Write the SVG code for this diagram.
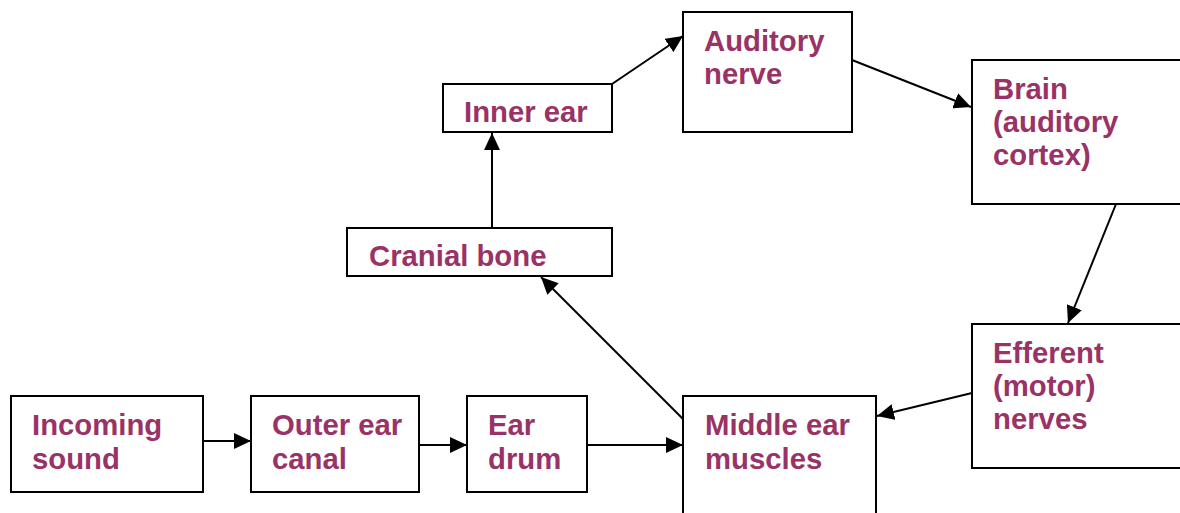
<svg xmlns="http://www.w3.org/2000/svg" width="1180" height="513" viewBox="0 0 1180 513">
<style>
.box{fill:#fff;stroke:#000;stroke-width:2}
.t{font-family:"Liberation Sans",Arial,sans-serif;font-weight:bold;font-size:29.3px;fill:#993366}
.c{stroke:#000;stroke-width:2;fill:none;marker-end:url(#ah)}
</style>
<defs>
<marker id="ah" markerUnits="userSpaceOnUse" markerWidth="18" markerHeight="16" refX="17" refY="8" orient="auto">
<path d="M0,0 L17,8 L0,16 z" fill="#000"/>
</marker>
</defs>
<rect width="1180" height="513" fill="#fff"/>
<g id="incoming">
<rect class="box" x="11" y="396" width="192" height="96"/>
<text class="t" x="32" y="435">Incoming</text>
<text class="t" x="32" y="469">sound</text>
</g>
<g id="outer">
<rect class="box" x="251" y="396" width="168" height="96"/>
<text class="t" x="272" y="435">Outer ear</text>
<text class="t" x="272" y="469">canal</text>
</g>
<g id="drum">
<rect class="box" x="467" y="396" width="120" height="96"/>
<text class="t" x="488" y="435">Ear</text>
<text class="t" x="488" y="469">drum</text>
</g>
<g id="middle">
<rect class="box" x="683" y="396" width="193" height="130"/>
<text class="t" x="705" y="435">Middle ear</text>
<text class="t" x="705" y="469">muscles</text>
</g>
<g id="cranial">
<rect class="box" x="347" y="228" width="265" height="48"/>
<text class="t" x="369" y="266">Cranial bone</text>
</g>
<g id="inner">
<rect class="box" x="443" y="84" width="169" height="48"/>
<text class="t" x="464" y="122">Inner ear</text>
</g>
<g id="auditory">
<rect class="box" x="683" y="12" width="169" height="120"/>
<text class="t" x="704" y="51">Auditory</text>
<text class="t" x="704" y="84">nerve</text>
</g>
<g id="brain">
<rect class="box" x="972" y="60" width="230" height="144"/>
<text class="t" x="993" y="99">Brain</text>
<text class="t" x="993" y="132">(auditory</text>
<text class="t" x="993" y="165">cortex)</text>
</g>
<g id="efferent">
<rect class="box" x="972" y="324" width="230" height="144"/>
<text class="t" x="993" y="363">Efferent</text>
<text class="t" x="993" y="396">(motor)</text>
<text class="t" x="993" y="429">nerves</text>
</g>
<g id="connectors">
<line class="c" x1="203" y1="441" x2="251" y2="441"/>
<line class="c" x1="419" y1="445" x2="467" y2="445"/>
<line class="c" x1="587" y1="445" x2="683" y2="445"/>
<line class="c" x1="683" y1="419" x2="541" y2="277"/>
<line class="c" x1="492" y1="228" x2="492" y2="133"/>
<line class="c" x1="612" y1="84" x2="683" y2="36"/>
<line class="c" x1="852" y1="60" x2="971" y2="107"/>
<line class="c" x1="1116" y1="204" x2="1068" y2="323"/>
<line class="c" x1="972" y1="393" x2="877" y2="416"/>
</g>
</svg>
